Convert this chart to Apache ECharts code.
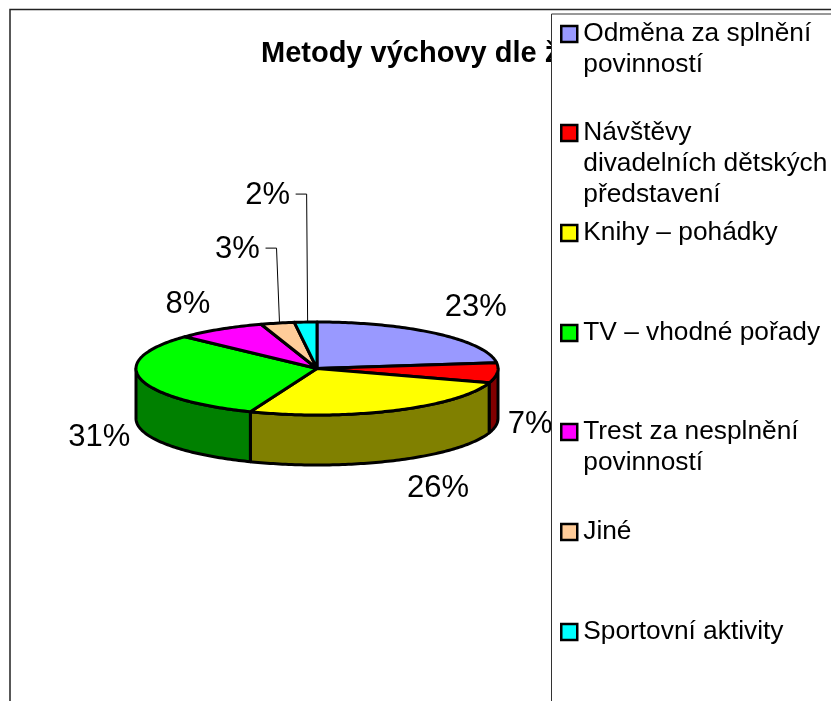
<!DOCTYPE html>
<html>
<head>
<meta charset="utf-8">
<style>
html,body{margin:0;padding:0;background:#fff;}
#main{width:831px;height:701px;}
</style>
<script src="https://cdn.jsdelivr.net/npm/echarts@6/dist/echarts.min.js"></script>
</head>
<body>
<div id="main"></div>
<script>
const titleText = 'Metody výchovy dle žen';
const categories = ['Odměna za splnění povinností', 'Návštěvy divadelních dětských představení', 'Knihy – pohádky', 'TV – vhodné pořady', 'Trest za nesplnění povinností', 'Jiné', 'Sportovní aktivity'];
const legendTexts = ['Odměna za splnění\npovinností', 'Návštěvy\ndivadelních dětských\npředstavení', 'Knihy – pohádky', 'TV – vhodné pořady', 'Trest za nesplnění\npovinností', 'Jiné', 'Sportovní aktivity'];
const values = [23, 7, 26, 31, 8, 3, 2];
const colors = ['#9999FF', '#FF0000', '#FFFF00', '#00FF00', '#FF00FF', '#FFCC99', '#00FFFF'];
const sideColors = ['#4C4C80', '#800000', '#808000', '#008000', '#800080', '#806650', '#008080'];
const legendCenters = [34, 133, 233, 333, 432, 532, 632];
const labelOffsets = [[39, -26], [33, 52], [44, 78], [-41, 59], [-32, -25], [-40, -74], [-38, -127]];
const hasLeader = [false, false, false, false, false, true, true];

// pie geometry in px
const cx = 317, cy = 368.5, rx = 181, ry = 46.5, depth = 50;
const legendLine = 31, legendPadTop = 6;
const total = values.reduce((a, b) => a + b, 0);

function rim(deg, dy) {
    let a = deg * Math.PI / 180;
    return [cx + rx * Math.sin(a), cy - ry * Math.cos(a) + (dy || 0)];
}
function arc(from, to, dy) {
    let pts = [];
    for (let d = from; d < to; d += 1) pts.push(rim(d, dy));
    pts.push(rim(to, dy));
    return pts;
}

function makeRender(i) {
    return function (params, api) {
        let before = values.slice(0, i).reduce((a, b) => a + b, 0);
        let start = before / total * 360;
        let end = start + api.value(0) / total * 360;
        let children = [];
        // side wall, only the part of the rim that faces the viewer
        let wFrom = Math.max(start, 90), wTo = Math.min(end, 270);
        if (wTo > wFrom) {
            let top = arc(wFrom, wTo, 0);
            let bottom = arc(wFrom, wTo, depth).reverse();
            children.push({
                type: 'polygon',
                z2: 1,
                shape: { points: top.concat(bottom) },
                style: { fill: sideColors[i], stroke: '#000', lineWidth: 3, lineJoin: 'round' }
            });
        }
        // top face
        children.push({
            type: 'polygon',
            z2: 2,
            shape: { points: [[cx, cy]].concat(arc(start, end, 0)) },
            style: { fill: colors[i], stroke: '#000', lineWidth: 3, lineJoin: 'round' }
        });
        let anchor = rim((start + end) / 2, 0);
        let lx = anchor[0] + labelOffsets[i][0];
        let ly = anchor[1] + labelOffsets[i][1];
        if (hasLeader[i]) {
            children.push({
                type: 'polyline',
                z2: 3,
                shape: { points: [[lx + 28, ly - 1], [lx + 39, ly - 1], [anchor[0] + 2, anchor[1]]] },
                style: { fill: 'none', stroke: '#000', lineWidth: 1 }
            });
        }
        children.push({
            type: 'text',
            z2: 4,
            style: {
                text: api.value(0) + '%',
                x: lx,
                y: ly,
                align: 'center',
                verticalAlign: 'middle',
                fill: '#000',
                font: '31px "Liberation Sans", Arial, sans-serif'
            }
        });
        return { type: 'group', children: children };
    };
}

let myChart = echarts.init(document.getElementById('main'), null, { renderer: 'canvas' });

let option = {
    backgroundColor: '#fff',
    animation: false,
    title: {
        text: titleText,
        left: 261,
        top: 39,
        padding: 0,
        z: 2,
        textStyle: { fontFamily: 'Liberation Sans', fontSize: 29, fontWeight: 'bold', color: '#000' }
    },
    graphic: [
        {
            type: 'polyline',
            z: 1,
            silent: true,
            shape: { points: [[10, 720], [10, 9.5], [850, 9.5]] },
            style: { fill: 'none', stroke: '#222', lineWidth: 1.5 }
        },
        {
            type: 'rect',
            z: 5,
            silent: true,
            shape: { x: 551.5, y: 14, width: 400, height: 800 },
            style: { fill: '#fff', stroke: '#333', lineWidth: 1 }
        }
    ],
    legend: categories.map((name, i) => {
        let lines = legendTexts[i].split('\n').length;
        return {
            data: [name],
            left: 560,
            top: legendCenters[i] - (legendLine * (2 * lines - 1) + legendPadTop) / 2,
            orient: 'vertical',
            padding: 0,
            z: 8,
            selectedMode: false,
            icon: 'rect',
            itemWidth: 16,
            itemHeight: 16,
            itemStyle: { borderColor: '#000', borderWidth: 2.5 },
            // blank lines above the text keep the swatch level with the first line
            formatter: () => ' \n'.repeat(lines - 1) + legendTexts[i],
            textStyle: { fontFamily: 'Liberation Sans', fontSize: 26.3, lineHeight: legendLine, color: '#000', padding: [legendPadTop, 0, 0, 1] }
        };
    }),
    series: categories.map((name, i) => ({
        type: 'custom',
        name: name,
        coordinateSystem: 'none',
        silent: true,
        itemStyle: { color: colors[i] },
        renderItem: makeRender(i),
        data: [[values[i]]]
    }))
};
myChart.setOption(option);
</script>
</body>
</html>
